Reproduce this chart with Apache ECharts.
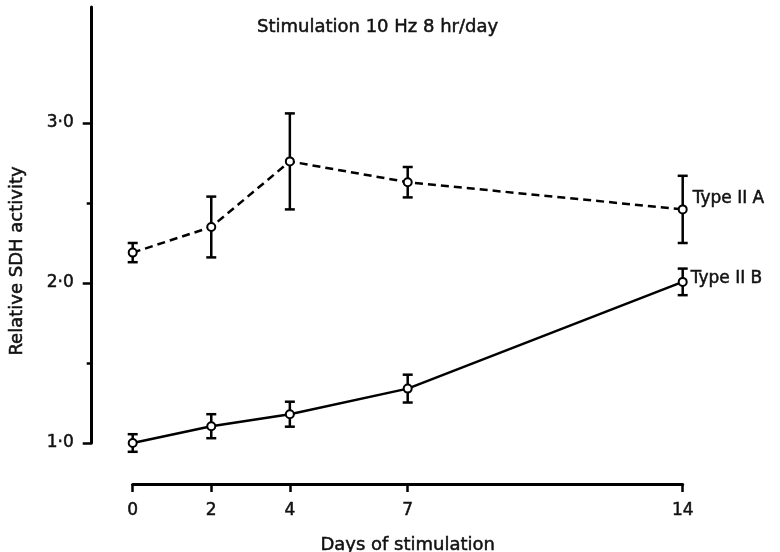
<!DOCTYPE html>
<html>
<head>
<meta charset="utf-8">
<script src="https://cdn.jsdelivr.net/npm/echarts@6/dist/echarts.min.js"></script>
<style>
  html, body { margin: 0; padding: 0; background: #fff; }
  #chart { width: 780px; height: 552px; }
</style>
</head>
<body>
<div id="chart"></div>
<script>
var days = [0, 2, 4, 7, 14];
var typeIIA = [2.19, 2.35, 2.76, 2.63, 2.46];
var typeIIAErr = [0.06, 0.19, 0.30, 0.095, 0.21];
var typeIIB = [1.00, 1.105, 1.18, 1.34, 2.007];
var typeIIBErr = [0.055, 0.075, 0.078, 0.087, 0.083];
var yMajorTicks = [1, 2, 3];
var yMinorTicks = [1.5, 2.5];
var xTicks = [0, 2, 4, 7, 14];

var FONT = 'DejaVu Sans';
var INK = '#111';
// slight outline so the text looks as heavy as the printed figure
var heavy = { textBorderColor: INK, textBorderWidth: 0.5 };

function pairs(vals) {
    return days.map(function (d, i) { return [d, vals[i]]; });
}
function errRows(vals, errs) {
    return days.map(function (d, i) { return [d, vals[i] - errs[i], vals[i] + errs[i]]; });
}

function renderErr(params, api) {
    var lo = api.coord([api.value(0), api.value(1)]);
    var hi = api.coord([api.value(0), api.value(2)]);
    var w = 5;
    var st = { stroke: '#000', lineWidth: 2.5 };
    return {
        type: 'group',
        children: [
            { type: 'line', shape: { x1: hi[0], y1: hi[1], x2: lo[0], y2: lo[1] }, style: st },
            { type: 'line', shape: { x1: hi[0] - w, y1: hi[1], x2: hi[0] + w, y2: hi[1] }, style: st },
            { type: 'line', shape: { x1: lo[0] - w, y1: lo[1], x2: lo[0] + w, y2: lo[1] }, style: st }
        ]
    };
}

var myChart = echarts.init(document.getElementById('chart'));
var chartOption = {
    backgroundColor: '#fff',
    animation: false,
    title: {
        text: 'Stimulation 10 Hz 8 hr/day',
        left: 252,
        top: 13,
        textStyle: Object.assign({ fontFamily: FONT, fontSize: 18, fontWeight: 'normal', color: INK }, heavy)
    },
    grid: { left: 132.7, right: 97.3, top: 7, bottom: 109, containLabel: false, outerBoundsMode: 'none' },
    xAxis: {
        type: 'value',
        min: 0,
        max: 14,
        offset: 41,
        name: 'Days of stimulation',
        nameLocation: 'middle',
        nameGap: 52,
        nameTextStyle: Object.assign({ fontFamily: FONT, fontSize: 18, color: INK }, heavy),
        axisLine: { onZero: false, lineStyle: { color: '#000', width: 3 } },
        axisTick: { customValues: xTicks, length: 8, lineStyle: { color: '#000', width: 2.5 } },
        axisLabel: Object.assign({
            customValues: xTicks,
            margin: 18,
            fontFamily: FONT, fontSize: 17, color: INK
        }, heavy),
        splitLine: { show: false }
    },
    yAxis: [{
        type: 'value',
        min: 1,
        max: 3.725,
        offset: 41,
        axisLine: { show: true, onZero: false, lineStyle: { color: '#000', width: 3 } },
        axisTick: { customValues: yMajorTicks, length: 9, lineStyle: { color: '#000', width: 2.5 } },
        axisLabel: Object.assign({
            customValues: yMajorTicks,
            margin: 18,
            fontFamily: FONT, fontSize: 17, color: INK,
            formatter: function (v) { return v.toFixed(1).replace('.', '\u00b7'); }
        }, heavy),
        splitLine: { show: false }
    }, {
        type: 'value',
        min: 1,
        max: 3.725,
        offset: 41,
        position: 'left',
        axisLine: { show: false, onZero: false },
        axisTick: { show: true, customValues: yMinorTicks, length: 5, lineStyle: { color: '#000', width: 2.5 } },
        axisLabel: { show: false },
        splitLine: { show: false }
    }],
    graphic: [{
        type: 'text',
        x: 17,
        y: 261,
        rotation: Math.PI / 2,
        style: {
            text: 'Relative SDH activity',
            font: '18px "DejaVu Sans"',
            fill: INK,
            stroke: INK,
            lineWidth: 0.5,
            align: 'center',
            verticalAlign: 'middle'
        }
    }],
    series: [
        {
            name: 'Type II A err',
            type: 'custom',
            renderItem: renderErr,
            data: errRows(typeIIA, typeIIAErr),
            clip: false,
            z: 1
        },
        {
            name: 'Type II B err',
            type: 'custom',
            renderItem: renderErr,
            data: errRows(typeIIB, typeIIBErr),
            clip: false,
            z: 1
        },
        {
            name: 'Type II A',
            type: 'line',
            data: pairs(typeIIA),
            clip: false,
            z: 3,
            symbol: 'circle',
            symbolSize: 8,
            itemStyle: { color: '#fff', borderColor: '#000', borderWidth: 2 },
            lineStyle: { color: '#000', width: 2.5, type: [8, 5] },
            endLabel: Object.assign({
                show: true,
                formatter: '{a}',
                offset: [2, -11],
                fontFamily: FONT, fontSize: 17, color: INK
            }, heavy)
        },
        {
            name: 'Type II B',
            type: 'line',
            data: pairs(typeIIB),
            clip: false,
            z: 3,
            symbol: 'circle',
            symbolSize: 8,
            itemStyle: { color: '#fff', borderColor: '#000', borderWidth: 2 },
            lineStyle: { color: '#000', width: 2.5 },
            endLabel: Object.assign({
                show: true,
                formatter: '{a}',
                offset: [0, -3],
                fontFamily: FONT, fontSize: 17, color: INK
            }, heavy)
        }
    ]
};
myChart.setOption(chartOption);
</script>
</body>
</html>
